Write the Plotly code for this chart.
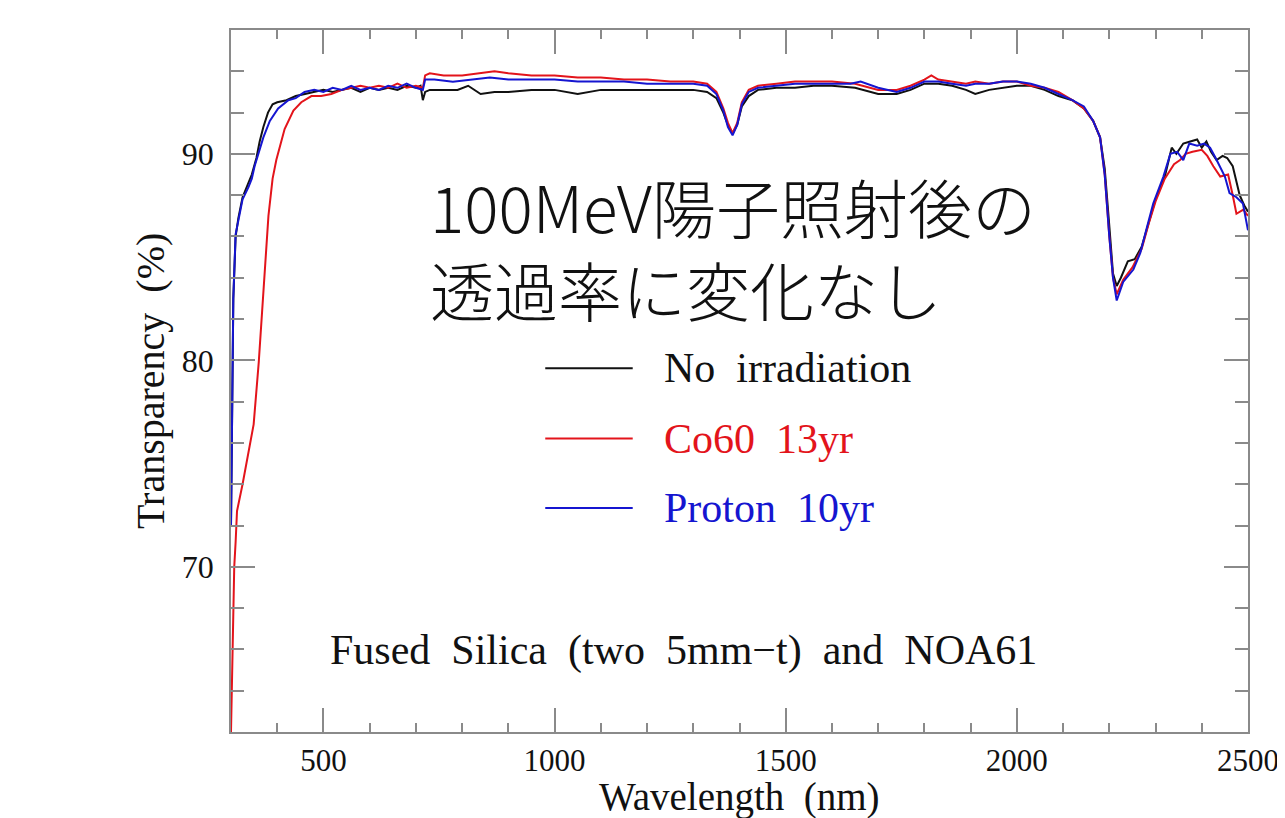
import plotly.graph_objects as go

# ---------------- data ----------------
wl_none = [300, 302, 305, 310, 316, 325, 335, 345, 355, 362, 370, 380, 390, 400, 420, 440, 460, 480,
           500, 520, 540, 560, 580, 600, 620, 640, 660, 680, 700, 710, 715, 720, 730, 760, 790, 813,
           840, 870, 900, 950, 1000, 1050, 1100, 1150, 1200, 1250, 1300, 1330, 1350, 1365, 1375, 1385,
           1395, 1405, 1420, 1440, 1480, 1520, 1560, 1600, 1650, 1700, 1740, 1770, 1800, 1830, 1860,
           1890, 1910, 1940, 1970, 2000, 2030, 2060, 2090, 2120, 2145, 2165, 2180, 2190, 2200, 2208,
           2216, 2225, 2240, 2255, 2270, 2285, 2300, 2320, 2335, 2345, 2360, 2375, 2390, 2400, 2410,
           2420, 2432, 2445, 2455, 2467, 2482, 2492, 2500]
t_none = [72.0, 78.0, 83.0, 86.0, 86.9, 87.9, 88.5, 89.0, 89.8, 90.6, 91.3, 92.0, 92.4, 92.5, 92.6, 92.8,
          92.9, 93.0, 93.1, 93.0, 93.1, 93.2, 93.0, 93.2, 93.1, 93.2, 93.1, 93.3, 93.2, 93.3, 92.6, 93.0,
          93.1, 93.1, 93.1, 93.3, 92.9, 93.0, 93.0, 93.1, 93.1, 92.9, 93.1, 93.1, 93.1, 93.1, 93.1, 93.0,
          92.7, 92.0, 91.4, 91.0, 91.4, 92.3, 92.8, 93.1, 93.2, 93.2, 93.3, 93.3, 93.2, 92.9, 92.9, 93.1,
          93.4, 93.4, 93.3, 93.1, 92.9, 93.1, 93.2, 93.3, 93.3, 93.1, 92.8, 92.6, 92.2, 91.6, 90.8, 89.3,
          86.5, 84.2, 83.6, 84.0, 84.8, 84.9, 85.5, 86.6, 87.8, 88.9, 90.3, 90.0, 90.5, 90.6, 90.7, 90.3,
          90.6, 90.1, 89.7, 89.9, 89.8, 89.4, 88.0, 87.5, 87.2]

wl_co60 = [300, 302, 304, 307, 310, 313, 325, 335, 349, 360, 371, 381, 390, 398, 416, 435, 452, 474,
           495, 517, 540, 560, 580, 600, 620, 640, 660, 680, 700, 715, 720, 730, 760, 800, 830, 870,
           900, 950, 1000, 1050, 1100, 1150, 1200, 1250, 1300, 1330, 1350, 1365, 1375, 1385, 1395,
           1405, 1420, 1440, 1480, 1520, 1560, 1600, 1650, 1700, 1740, 1770, 1800, 1815, 1830, 1860,
           1890, 1910, 1940, 1970, 2000, 2030, 2060, 2090, 2120, 2145, 2165, 2180, 2190, 2200, 2208,
           2216, 2230, 2250, 2270, 2285, 2300, 2320, 2340, 2353, 2365, 2380, 2400, 2412, 2425, 2440,
           2457, 2467, 2475, 2490, 2500]
t_co60 = [62.0, 64.0, 67.5, 70.0, 71.2, 72.7, 74.0, 75.2, 76.9, 79.9, 83.9, 87.0, 88.8, 89.7, 91.2, 92.1,
          92.5, 92.8, 92.8, 92.9, 93.1, 93.2, 93.3, 93.2, 93.3, 93.2, 93.4, 93.2, 93.3, 93.2, 93.8, 93.9,
          93.8, 93.8, 93.9, 94.0, 93.9, 93.8, 93.8, 93.7, 93.7, 93.6, 93.6, 93.5, 93.5, 93.4, 93.0, 92.2,
          91.5, 91.0, 91.5, 92.5, 93.1, 93.3, 93.4, 93.5, 93.5, 93.5, 93.4, 93.1, 93.1, 93.3, 93.6, 93.8,
          93.6, 93.5, 93.4, 93.5, 93.4, 93.5, 93.5, 93.3, 93.2, 93.0, 92.6, 92.2, 91.6, 90.8, 89.0, 86.0,
          84.0, 83.2, 83.9, 84.5, 85.4, 86.6, 87.7, 88.8, 89.5, 89.7, 90.0, 90.1, 90.2, 89.9, 89.4, 88.9,
          89.0, 88.0, 87.1, 87.3, 87.0]

wl_proton = [300, 302, 305, 310, 316, 325, 338, 345, 351, 360, 370, 384, 402, 424, 440, 459, 480, 500,
             520, 540, 560, 580, 600, 620, 640, 660, 680, 700, 715, 720, 740, 780, 820, 860, 900, 950,
             1000, 1050, 1100, 1150, 1200, 1250, 1300, 1330, 1350, 1365, 1375, 1385, 1395, 1405, 1420,
             1440, 1480, 1520, 1560, 1600, 1640, 1662, 1700, 1740, 1770, 1800, 1830, 1860, 1890, 1910,
             1940, 1970, 2000, 2030, 2060, 2090, 2120, 2145, 2165, 2180, 2190, 2200, 2208, 2216, 2230,
             2252, 2267, 2282, 2295, 2317, 2332, 2347, 2360, 2373, 2390, 2405, 2418, 2430, 2439, 2450,
             2460, 2475, 2489, 2500]
t_proton = [72.0, 78.0, 83.0, 86.1, 86.8, 87.8, 88.4, 88.8, 89.4, 90.1, 90.8, 91.6, 92.2, 92.6, 92.7,
            93.0, 93.1, 93.0, 93.2, 93.1, 93.3, 93.1, 93.2, 93.1, 93.3, 93.2, 93.4, 93.2, 93.1, 93.6,
            93.6, 93.5, 93.6, 93.7, 93.6, 93.6, 93.6, 93.5, 93.5, 93.5, 93.4, 93.4, 93.4, 93.3, 92.9,
            92.1, 91.3, 90.9, 91.4, 92.4, 93.0, 93.2, 93.3, 93.4, 93.4, 93.4, 93.4, 93.5, 93.2, 93.0,
            93.2, 93.5, 93.5, 93.4, 93.3, 93.4, 93.4, 93.5, 93.5, 93.4, 93.2, 92.9, 92.6, 92.3, 91.6,
            90.8, 89.0, 86.0, 84.0, 82.9, 83.8, 84.4, 85.2, 86.5, 87.6, 88.9, 90.0, 90.1, 89.7, 90.5,
            90.4, 90.5, 90.3, 89.8, 89.4, 88.9, 88.1, 87.9, 87.6, 86.3]

series_names = ["No\u00a0 irradiation", "Co60\u00a0 13yr", "Proton\u00a0 10yr"]
series_colors = ["#111111", "#e3141b", "#1515d0"]
x_tickvals = [500, 1000, 1500, 2000, 2500]
y_tickvals = [70, 80, 90]

# ---------------- figure ----------------
fig = go.Figure()
for wl, t, c in [(wl_none, t_none, series_colors[0]),
                 (wl_co60, t_co60, series_colors[1]),
                 (wl_proton, t_proton, series_colors[2])]:
    fig.add_trace(go.Scatter(x=wl, y=t, mode="lines", line=dict(color=c, width=2),
                             showlegend=False, hoverinfo="skip"))

serif = "Liberation Serif"
axis_gray = "#8a8a8a"

fig.update_xaxes(range=[300, 2500], tickvals=x_tickvals, ticks="inside", ticklen=24, tickwidth=1.5,
                 tickcolor=axis_gray, showline=True, linecolor=axis_gray, linewidth=1.5,
                 mirror="allticks", showgrid=False, zeroline=False, automargin=False,
                 tickfont=dict(family=serif, size=31, color="#111"), ticklabelstandoff=0,
                 minor=dict(ticks="inside", ticklen=9, dtick=100, tick0=0, tickcolor=axis_gray,
                            tickwidth=1.5, showgrid=False))
fig.update_yaxes(range=[62, 96], tickvals=y_tickvals, ticks="inside", ticklen=24, tickwidth=1.5,
                 tickcolor=axis_gray, showline=True, linecolor=axis_gray, linewidth=1.5,
                 mirror="allticks", showgrid=False, zeroline=False, automargin=False,
                 tickfont=dict(family=serif, size=32, color="#111"), ticklabelstandoff=9,
                 minor=dict(ticks="inside", ticklen=13, dtick=2, tick0=0, tickcolor=axis_gray,
                            tickwidth=1.5, showgrid=False))

# axis titles
fig.add_annotation(xref="paper", yref="paper", x=0.5, y=-0.093, xanchor="center", yanchor="middle",
                   text="Wavelength\u00a0 (nm)", showarrow=False,
                   font=dict(family=serif, size=39, color="#111"))
fig.add_annotation(xref="paper", yref="paper", x=-0.0797, y=0.5, xanchor="center", yanchor="middle",
                   text="Transparency\u00a0 (%)", showarrow=False, textangle=-90,
                   font=dict(family=serif, size=40, color="#111"))

# legend drawn as line keys + coloured labels
leg_y = [0.518, 0.418, 0.319]
for name, c, yy in zip(series_names, series_colors, leg_y):
    fig.add_shape(type="line", xref="paper", yref="paper", x0=0.309, x1=0.395, y0=yy, y1=yy,
                  line=dict(color=c, width=2))
    fig.add_annotation(xref="paper", yref="paper", x=0.424, y=yy, xanchor="left", yanchor="middle",
                       text=name, showarrow=False, font=dict(family=serif, size=42, color=c))

fig.add_annotation(xref="paper", yref="paper", x=0.4454, y=0.1168, xanchor="center", yanchor="middle",
                   text="Fused\u00a0 Silica\u00a0 (two\u00a0 5mm\u2212t)\u00a0 and\u00a0 NOA61", showarrow=False,
                   font=dict(family=serif, size=42, color="#111"))

jp = "Noto Sans CJK JP"
fig.add_annotation(xref="paper", yref="paper", x=0.1937, y=0.691, xanchor="left", yanchor="middle",
                   align="left", text="100MeV陽子照射後の<br>透過率に変化なし", showarrow=False,
                   font=dict(family=jp, size=64, color="#111", weight=300))

# page body adds ~8px offset, so the figure is slightly smaller than the window
fig.update_layout(width=1277, height=810, margin=dict(l=223, r=37, t=22, b=86),
                  paper_bgcolor="white", plot_bgcolor="white", showlegend=False)

fig.write_html("out.html")
